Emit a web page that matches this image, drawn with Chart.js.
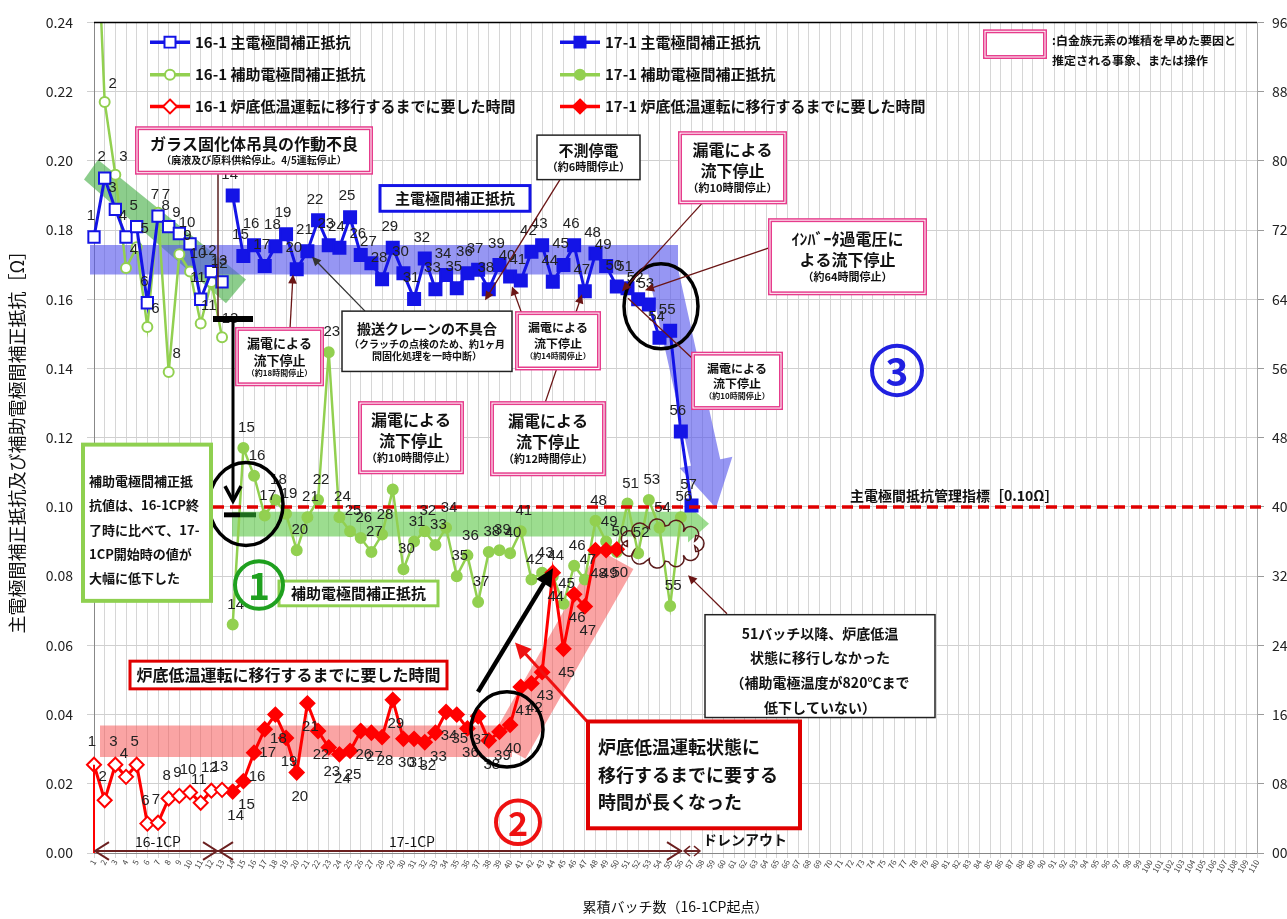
<!DOCTYPE html>
<html>
<head>
<meta charset="utf-8">
<script src="https://cdn.jsdelivr.net/npm/chart.js@4.4.1/dist/chart.umd.min.js"></script>
<style>
  html, body { margin: 0; padding: 0; background: #fff; }
</style>
</head>
<body>
<canvas id="chart" width="1287" height="919"></canvas>
<script>
var JP = '"Noto Sans CJK JP", "Noto Sans", sans-serif';
var NUM = '"Liberation Sans Narrow", "Liberation Sans", sans-serif';

// categories: cumulative batch number (16-1CP start)
var batchLabels = [];
for (var b = 1; b <= 110; b++) batchLabels.push(String(b));

// 主電極間補正抵抗 [Ω]  (16-1: batch 1-13, 17-1: batch 14-57)
var main161 = [0.178, 0.195, 0.186, 0.178, 0.181, 0.159, 0.184, 0.181, 0.179, 0.176, 0.160, 0.168, 0.165];
var main171 = [0.190, 0.1725, 0.1756, 0.1696, 0.1753, 0.1788, 0.1687, 0.1739, 0.1828, 0.1756, 0.1749, 0.1837,
  0.1728, 0.1704, 0.1658, 0.1749, 0.1675, 0.1601, 0.1718, 0.1629, 0.167, 0.1632, 0.1675, 0.1685, 0.1629,
  0.1699, 0.1666, 0.1654, 0.1737, 0.1756, 0.1651, 0.1699, 0.1756, 0.1623, 0.1732, 0.1696, 0.1637, 0.1632,
  0.160, 0.1585, 0.1489, 0.1509, 0.1218, 0.1004];

// 補助電極間補正抵抗 [Ω]  (16-1: batch 1-13, 17-1: batch 14-56)
var aux161 = [0.290, 0.217, 0.196, 0.169, 0.175, 0.152, 0.185, 0.139, 0.173, 0.168, 0.153, 0.165, 0.149];
var aux171 = [0.066, 0.117, 0.109, 0.0975, 0.102, 0.098, 0.0875, 0.097, 0.102, 0.1447, 0.097, 0.093, 0.091,
  0.087, 0.092, 0.105, 0.082, 0.090, 0.093, 0.089, 0.094, 0.080, 0.086, 0.0725, 0.087, 0.0875, 0.0866, 0.093,
  0.079, 0.081, 0.080, 0.072, 0.083, 0.079, 0.096, 0.090, 0.087, 0.101, 0.0866, 0.102, 0.094, 0.0714, 0.097];

// 炉底低温運転に移行するまでに要した時間 [h]  (16-1: batch 1-13, 17-1: batch 14-50)
var time161 = [10.2, 6.1, 10.2, 8.8, 10.2, 3.4, 3.5, 6.3, 6.6, 7.0, 5.8, 7.2, 7.3];
var time171 = [7.1, 8.3, 11.6, 14.3, 16.0, 13.3, 9.3, 17.3, 14.1, 12.2, 11.4, 11.8, 14.1, 13.9, 13.4, 17.7,
  13.2, 13.2, 12.8, 13.9, 16.3, 16.0, 14.4, 15.8, 13.0, 14.0, 14.8, 19.2, 19.6, 20.9, 32.4, 23.6, 29.9,
  28.5, 35.0, 35.0, 35.1];

var start161 = 1;
var start171 = 14;
var limitLine = 0.10;

var BLUE = '#1414e6';
var GREEN = '#92d050';
var RED = '#ff0000';
var PINK = '#e63c8c';

function place(values, start) {
  var out = [];
  for (var i = 0; i < batchLabels.length; i++) out.push(null);
  values.forEach(function (v, k) { out[start - 1 + k] = v; });
  return out;
}

function series(label, values, start, color, style, open, radius, width, axis, order, lab) {
  return {
    label: label,
    data: place(values, start),
    yAxisID: axis,
    borderColor: color,
    borderWidth: width,
    pointStyle: style,
    pointRadius: radius,
    pointBorderWidth: 2,
    pointBorderColor: color,
    pointBackgroundColor: open ? '#ffffff' : color,
    spanGaps: false,
    tension: 0,
    order: order,
    labelOffset: lab
  };
}

// ---------- drawing helpers (reference pixel space) ----------
function addPoly(ctx, pts) {
  var a = 0;
  for (var i = 0; i < pts.length; i++) {
    var p = pts[i], q = pts[(i + 1) % pts.length];
    a += p[0] * q[1] - q[0] * p[1];
  }
  if (a < 0) pts = pts.slice().reverse();
  ctx.moveTo(pts[0][0], pts[0][1]);
  for (var j = 1; j < pts.length; j++) ctx.lineTo(pts[j][0], pts[j][1]);
  ctx.closePath();
}
function rectPts(x1, y1, x2, y2) { return [[x1, y1], [x2, y1], [x2, y2], [x1, y2]]; }
function segPts(x1, y1, x2, y2, w) {
  var dx = x2 - x1, dy = y2 - y1, l = Math.sqrt(dx * dx + dy * dy);
  var nx = -dy / l * w / 2, ny = dx / l * w / 2;
  return [[x1 + nx, y1 + ny], [x2 + nx, y2 + ny], [x2 - nx, y2 - ny], [x1 - nx, y1 - ny]];
}
function headPts(xb, yb, xt, yt, hw) {
  var dx = xt - xb, dy = yt - yb, l = Math.sqrt(dx * dx + dy * dy);
  var nx = -dy / l * hw, ny = dx / l * hw;
  return [[xb + nx, yb + ny], [xt, yt], [xb - nx, yb - ny]];
}
function band(ctx, color, polys) {
  ctx.beginPath();
  polys.forEach(function (p) { addPoly(ctx, p); });
  ctx.fillStyle = color;
  ctx.fill();
}
function line(ctx, x1, y1, x2, y2, color, w) {
  ctx.beginPath(); ctx.moveTo(x1, y1); ctx.lineTo(x2, y2);
  ctx.strokeStyle = color; ctx.lineWidth = w; ctx.stroke();
}
function arrow(ctx, x1, y1, x2, y2, color, w, size) {
  var ang = Math.atan2(y2 - y1, x2 - x1);
  line(ctx, x1, y1, x2 - Math.cos(ang) * size * 0.6, y2 - Math.sin(ang) * size * 0.6, color, w);
  ctx.beginPath();
  ctx.moveTo(x2, y2);
  ctx.lineTo(x2 - size * Math.cos(ang - 0.45), y2 - size * Math.sin(ang - 0.45));
  ctx.lineTo(x2 - size * Math.cos(ang + 0.45), y2 - size * Math.sin(ang + 0.45));
  ctx.closePath();
  ctx.fillStyle = color; ctx.fill();
}
function openArrowHead(ctx, x, y, dir, color) {
  ctx.beginPath();
  ctx.moveTo(x + dir * 14, y - 9); ctx.lineTo(x, y); ctx.lineTo(x + dir * 14, y + 9);
  ctx.strokeStyle = color; ctx.lineWidth = 2; ctx.stroke();
}
function box(ctx, x, y, w, h, border, lines) {
  ctx.fillStyle = '#ffffff';
  ctx.fillRect(x, y, w, h);
  if (border === 'pink') {
    ctx.lineWidth = 4; ctx.strokeStyle = PINK; ctx.strokeRect(x, y, w, h);
    ctx.lineWidth = 1; ctx.strokeStyle = '#ffffff'; ctx.strokeRect(x, y, w, h);
  } else {
    ctx.lineWidth = border[1]; ctx.strokeStyle = border[0]; ctx.strokeRect(x, y, w, h);
  }
  var total = 0;
  lines.forEach(function (l) { total += l[1] * 1.3; });
  var cy = y + h / 2 - total / 2;
  ctx.fillStyle = '#111';
  ctx.textAlign = 'center';
  ctx.textBaseline = 'middle';
  lines.forEach(function (l) {
    ctx.font = (l[2] || 'normal') + ' ' + l[1] + 'px ' + JP;
    ctx.fillText(l[0], x + w / 2, cy + l[1] * 0.65);
    cy += l[1] * 1.3;
  });
}
function text(ctx, s, x, y, size, weight, color, align) {
  ctx.font = (weight || 'normal') + ' ' + size + 'px ' + JP;
  ctx.fillStyle = color || '#111';
  ctx.textAlign = align || 'left';
  ctx.textBaseline = 'middle';
  ctx.fillText(s, x, y);
}
function ring(ctx, cx, cy, rx, ry, color, w) {
  ctx.beginPath(); ctx.ellipse(cx, cy, rx, ry, 0, 0, Math.PI * 2);
  ctx.strokeStyle = color; ctx.lineWidth = w; ctx.stroke();
}
function circledNum(ctx, n, cx, cy, r, color) {
  ring(ctx, cx, cy, r, r, color, 4);
  text(ctx, n, cx, cy + 1, r * 1.55, 'bold', color, 'center');
}
function marker(ctx, style, x, y, color, open) {
  ctx.beginPath();
  if (style === 'rect') ctx.rect(x - 5.5, y - 5.5, 11, 11);
  else if (style === 'circle') ctx.arc(x, y, 5, 0, Math.PI * 2);
  else { ctx.moveTo(x, y - 7); ctx.lineTo(x + 7, y); ctx.lineTo(x, y + 7); ctx.lineTo(x - 7, y); ctx.closePath(); }
  ctx.fillStyle = open ? '#fff' : color; ctx.fill();
  ctx.strokeStyle = color; ctx.lineWidth = 2; ctx.stroke();
}
function cloud(ctx, cx, cy, rx, ry, n, color) {
  ctx.beginPath();
  for (var k = 0; k < n; k++) {
    var a = k / n * Math.PI * 2;
    var px = cx + rx * Math.cos(a), py = cy + ry * Math.sin(a);
    ctx.arc(px, py, 8, a - 1.6, a + 1.6);
  }
  ctx.closePath();
  ctx.strokeStyle = color; ctx.lineWidth = 1.5; ctx.stroke();
}

// map reference pixel space onto the real chart area
function toRef(chart) {
  var a = chart.chartArea, ctx = chart.ctx;
  var sx = (a.right - a.left) / (1257 - 94), sy = (a.bottom - a.top) / (853 - 13);
  ctx.save();
  ctx.translate(a.left - 94 * sx, a.top - 13 * sy);
  ctx.scale(sx, sy);
  return ctx;
}

var decorations = {
  id: 'decorations',
  beforeDatasetsDraw: function (chart) {
    var ctx = toRef(chart);
    // green diagonal band (16-1 aux decline)
    band(ctx, 'rgba(70,175,70,0.62)', [[[84, 172], [98, 152], [246, 273], [226, 297]]]);
    // blue band with downward arrow
    band(ctx, 'rgba(85,85,235,0.62)', [
      rectPts(90, 238, 678, 268),
      segPts(660, 250, 706, 460, 30),
      headPts(706, 458, 716, 504, 27)
    ]);
    // green horizontal arrow
    band(ctx, 'rgba(95,200,75,0.62)', [
      rectPts(232, 508, 689, 533),
      headPts(688, 520, 709, 520, 19)
    ]);
    // red band, then rising
    band(ctx, 'rgba(245,90,90,0.55)', [
      rectPts(100, 724, 512, 756),
      segPts(508, 748, 616, 556, 40)
    ]);
    ctx.restore();
  },
  afterDatasetsDraw: function (chart) {
    var a = chart.chartArea;
    var c = chart.ctx;
    // management limit line 0.10
    var yl = chart.scales.y.getPixelForValue(limitLine);
    c.save();
    c.setLineDash([11, 6]);
    c.beginPath(); c.moveTo(a.left, yl); c.lineTo(a.right + 8, yl);
    c.strokeStyle = '#e00000'; c.lineWidth = 3.5; c.stroke();
    c.restore();
    // top frame
    c.save();
    c.beginPath(); c.moveTo(a.left, a.top); c.lineTo(a.right, a.top);
    c.strokeStyle = '#000'; c.lineWidth = 1.5; c.stroke();
    c.restore();

    // batch-number labels on every point
    c.save();
    c.font = '15px ' + NUM;
    c.textAlign = 'center';
    c.textBaseline = 'middle';
    chart.data.datasets.forEach(function (ds, di) {
      var meta = chart.getDatasetMeta(di);
      meta.data.forEach(function (el, idx) {
        if (ds.data[idx] === null) return;
        if (el.y < a.top || el.y > a.bottom) return;
        c.fillStyle = '#222';
        c.fillText(String(idx + 1), el.x + ds.labelOffset[0], el.y + ds.labelOffset[1]);
      });
    });
    c.restore();

    var ctx = toRef(chart);
    // red vertical at 16-1CP start
    var p1 = chart.getDatasetMeta(4).data[0];
    ctx.restore();
    c.save();
    c.beginPath(); c.moveTo(a.left, p1.y); c.lineTo(a.left, a.bottom);
    c.strokeStyle = RED; c.lineWidth = 2; c.stroke();
    c.restore();
    ctx = toRef(chart);

    // boundary line and black drop arrow (16-1CP end -> 17-1CP start)
    line(ctx, 218, 165, 218, 313, '#5a2020', 1.5);
    line(ctx, 213, 313, 253, 313, '#000', 6);
    line(ctx, 233, 313, 233, 494, '#000', 3);
    ctx.beginPath(); ctx.moveTo(225, 482); ctx.lineTo(233, 497); ctx.lineTo(241, 482);
    ctx.strokeStyle = '#000'; ctx.lineWidth = 3.5; ctx.stroke();
    line(ctx, 224, 511, 240, 511, '#000', 5);
    line(ctx, 240, 511, 256, 511, '#1d6b1d', 5);

    // black rings
    ring(ctx, 246, 500, 37, 42, '#000', 3.5);
    ring(ctx, 507, 728, 36, 38, '#000', 3.5);
    ring(ctx, 661, 300, 37, 43, '#000', 3.5);

    // cloud around 51-55
    cloud(ctx, 662, 540, 34, 17, 11, '#5a1a1a');

    // thick arrows
    arrow(ctx, 478, 690, 553, 565, '#000', 4.5, 20);
    arrow(ctx, 589, 722, 515, 640, '#ee1111', 3, 18);

    // callout pointers
    var br = '#6a1515';
    arrow(ctx, 290, 323, 293, 268, br, 1.3, 10);
    arrow(ctx, 365, 305, 312, 250, '#333', 1.3, 10);
    arrow(ctx, 560, 172, 485, 294, br, 1.3, 10);
    arrow(ctx, 522, 308, 512, 280, br, 1.3, 10);
    arrow(ctx, 545, 398, 582, 288, br, 1.3, 10);
    arrow(ctx, 702, 196, 622, 285, br, 1.3, 10);
    arrow(ctx, 772, 240, 645, 284, br, 1.3, 10);
    line(ctx, 700, 360, 628, 292, br, 1.3);
    arrow(ctx, 727, 611, 688, 572, br, 1.3, 10);

    // text boxes
    box(ctx, 137, 120, 234, 45, 'pink', [['ガラス固化体吊具の作動不良', 16, 'bold'], ['（廃液及び原料供給停止。4/5運転停止）', 10, 'bold']]);
    box(ctx, 237, 323, 85, 56, 'pink', [['漏電による', 13, 'bold'], ['流下停止', 13, 'bold'], ['（約18時間停止）', 8, 'bold']]);
    box(ctx, 342, 305, 170, 61, ['#222', 1.5], [['搬送クレーンの不具合', 14, 'bold'], ['（クラッチの点検のため、約1ヶ月', 10, 'bold'], ['間固化処理を一時中断）', 10, 'bold']]);
    box(ctx, 360, 398, 102, 70, 'pink', [['漏電による', 16, 'bold'], ['流下停止', 16, 'bold'], ['（約10時間停止）', 11, 'bold']]);
    box(ctx, 492, 398, 112, 72, 'pink', [['漏電による', 16, 'bold'], ['流下停止', 16, 'bold'], ['（約12時間停止）', 11, 'bold']]);
    box(ctx, 517, 307, 82, 56, 'pink', [['漏電による', 12, 'bold'], ['流下停止', 12, 'bold'], ['（約14時間停止）', 8, 'bold']]);
    box(ctx, 537, 127, 103, 45, ['#222', 1.5], [['不測停電', 15, 'bold'], ['（約6時間停止）', 11, 'bold']]);
    box(ctx, 680, 125, 105, 70, 'pink', [['漏電による', 16, 'bold'], ['流下停止', 16, 'bold'], ['（約10時間停止）', 11, 'bold']]);
    box(ctx, 770, 213, 155, 74, 'pink', [['ｲﾝﾊﾞｰﾀ過電圧に', 16, 'bold'], ['よる流下停止', 16, 'bold'], ['（約64時間停止）', 11, 'bold']]);
    box(ctx, 693, 348, 88, 55, 'pink', [['漏電による', 12, 'bold'], ['流下停止', 12, 'bold'], ['（約10時間停止）', 8, 'bold']]);
    box(ctx, 380, 178, 150, 26, [BLUE, 3], [['主電極間補正抵抗', 15, 'bold']]);
    box(ctx, 279, 578, 159, 25, ['#8fd050', 3], [['補助電極間補正抵抗', 15, 'bold']]);
    box(ctx, 130, 659, 317, 28, ['#e00000', 3], [['炉底低温運転に移行するまでに要した時間', 16, 'bold']]);

    // green note
    box(ctx, 83, 440, 128, 158, ['#8fd050', 4], []);
    ['補助電極間補正抵', '抗値は、16-1CP終', '了時に比べて、17-', '1CP開始時の値が', '大幅に低下した'].forEach(function (s, k) {
      text(ctx, s, 89, 477 + k * 24.5, 13, 'bold', '#111', 'left');
    });
    // red note
    box(ctx, 588, 720, 212, 108, ['#e00000', 4], []);
    ['炉底低温運転状態に', '移行するまでに要する', '時間が長くなった'].forEach(function (s, k) {
      text(ctx, s, 598, 746 + k * 28, 18, 'bold', '#111', 'left');
    });
    // 51 batch note
    box(ctx, 705, 612, 230, 104, ['#222', 1.5], []);
    ['51バッチ以降、炉底低温', '状態に移行しなかった', '（補助電極温度が820℃まで', '低下していない）'].forEach(function (s, k) {
      text(ctx, s, 820, 631 + k * 25, 14, 'bold', '#111', 'center');
    });

    text(ctx, '主電極間抵抗管理指標［0.10Ω］', 850, 492, 14, 'bold', '#111', 'left');

    circledNum(ctx, '1', 259, 582, 24, '#1fa01f');
    circledNum(ctx, '2', 518, 822, 22, '#ee1111');
    circledNum(ctx, '3', 897, 365, 25, '#2020e0');

    // campaign brackets along the x axis
    var dk = '#6b2020';
    line(ctx, 94, 851, 682, 851, dk, 2);
    openArrowHead(ctx, 95, 851, 1, dk);
    openArrowHead(ctx, 217, 851, -1, dk);
    openArrowHead(ctx, 219, 851, 1, dk);
    openArrowHead(ctx, 681, 851, -1, dk);
    line(ctx, 684, 851, 700, 851, dk, 2);
    ctx.beginPath(); ctx.moveTo(690, 846); ctx.lineTo(684, 851); ctx.lineTo(690, 856);
    ctx.moveTo(694, 846); ctx.lineTo(700, 851); ctx.lineTo(694, 856);
    ctx.strokeStyle = dk; ctx.lineWidth = 1.5; ctx.stroke();
    text(ctx, '16-1CP', 158, 842, 14, 'normal', '#111', 'center');
    text(ctx, '17-1CP', 412, 842, 14, 'normal', '#111', 'center');
    text(ctx, 'ドレンアウト', 703, 840, 14, 'bold', '#111', 'left');

    // legend
    var leg = [
      [150, 33, BLUE, 'rect', true, '16-1 主電極間補正抵抗'],
      [150, 66, GREEN, 'circle', true, '16-1 補助電極間補正抵抗'],
      [150, 98, RED, 'diamond', true, '16-1 炉底低温運転に移行するまでに要した時間'],
      [560, 33, BLUE, 'rect', false, '17-1 主電極間補正抵抗'],
      [560, 66, GREEN, 'circle', false, '17-1 補助電極間補正抵抗'],
      [560, 98, RED, 'diamond', false, '17-1 炉底低温運転に移行するまでに要した時間']
    ];
    leg.forEach(function (l) {
      line(ctx, l[0], l[1], l[0] + 40, l[1], l[2], 3.5);
      marker(ctx, l[3], l[0] + 20, l[1], l[2], l[4]);
      text(ctx, l[5], l[0] + 45, l[1], 15, 'bold', '#111', 'left');
    });
    box(ctx, 985, 22, 60, 26, 'pink', []);
    text(ctx, ':白金族元素の堆積を早めた要因と', 1052, 31, 12, 'bold', '#111', 'left');
    text(ctx, '推定される事象、または操作', 1052, 52, 12, 'bold', '#111', 'left');
    ctx.restore();
  }
};

var ctx = document.getElementById('chart').getContext('2d');
Chart.defaults.font.family = JP;
Chart.defaults.color = '#222';

new Chart(ctx, {
  type: 'line',
  data: {
    labels: batchLabels,
    datasets: [
      series('16-1 主電極間補正抵抗', main161, start161, BLUE, 'rect', true, 8, 3, 'y', 2, [-3, -21]),
      series('17-1 主電極間補正抵抗', main171, start171, BLUE, 'rect', false, 8.5, 3, 'y', 2, [-3, -21]),
      series('16-1 補助電極間補正抵抗', aux161, start161, GREEN, 'circle', true, 5, 2.5, 'y', 3, [8, -18]),
      series('17-1 補助電極間補正抵抗', aux171, start171, GREEN, 'circle', false, 5, 2.5, 'y', 3, [3, -20]),
      series('16-1 炉底低温運転に移行するまでに要した時間', time161, start161, RED, 'rectRot', true, 7, 3, 'y2', 1, [-2, -23]),
      series('17-1 炉底低温運転に移行するまでに要した時間', time171, start171, RED, 'rectRot', false, 7, 3, 'y2', 1, [3, 24])
    ]
  },
  options: {
    responsive: false,
    animation: false,
    layout: { padding: { top: 13, left: 0, right: 0, bottom: 0 } },
    plugins: { legend: { display: false }, tooltip: { enabled: false } },
    scales: {
      x: {
        type: 'category',
        offset: false,
        grid: { color: '#d6d6d6', lineWidth: 1, tickLength: 5 },
        border: { color: '#888' },
        ticks: { autoSkip: false, maxRotation: 60, minRotation: 60, font: { size: 8 }, color: '#444', padding: 0 },
        title: { display: true, text: '累積バッチ数（16-1CP起点）', font: { size: 14 }, color: '#111', padding: { top: 2, bottom: 4 } },
        afterFit: function (s) { s.height = 66; }
      },
      y: {
        position: 'left',
        min: 0,
        max: 0.24,
        grid: { color: '#d0d0d0', tickLength: 7 },
        border: { color: '#888' },
        ticks: { stepSize: 0.02, font: { size: 14 }, color: '#222', padding: 14, callback: function (v) { return v.toFixed(2); } },
        title: { display: true, text: '主電極間補正抵抗及び補助電極間補正抵抗［Ω］', font: { size: 18 }, color: '#111', padding: { top: 6, bottom: 0 } },
        afterFit: function (s) { s.width = 94; }
      },
      y2: {
        position: 'right',
        min: 0,
        max: 96,
        grid: { drawOnChartArea: false, tickLength: 7, color: '#999' },
        border: { color: '#aaa' },
        ticks: { stepSize: 8, font: { size: 14 }, color: '#222', padding: 8, callback: function (v) { return (v < 10 ? '0' : '') + v; } },
        afterFit: function (s) { s.width = 30; }
      }
    }
  },
  plugins: [decorations]
});
</script>
</body>
</html>
